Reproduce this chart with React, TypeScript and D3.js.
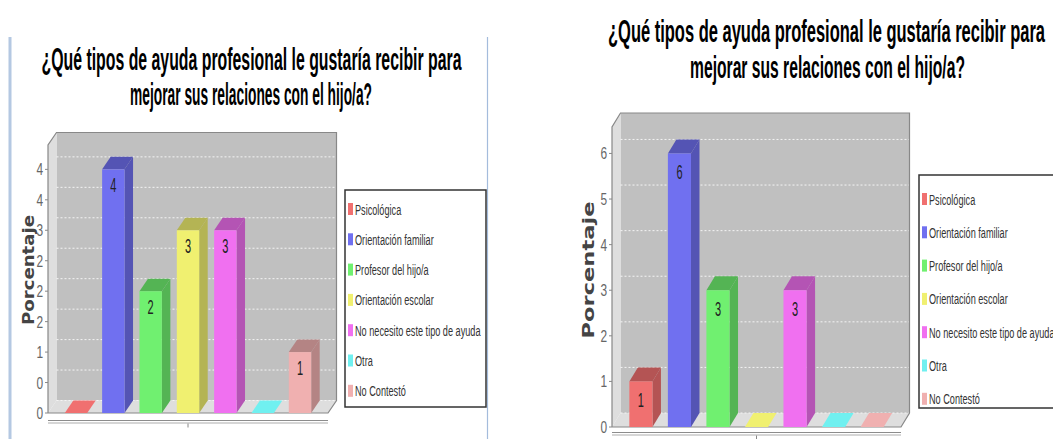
import React from 'react'
import * as d3 from 'd3'

const CATEGORIES = [
  'Psicológica',
  'Orientación familiar',
  'Profesor del hijo/a',
  'Orientación escolar',
  'No necesito este tipo de ayuda',
  'Otra',
  'No Contestó',
]
const LEFT_VALUES = [0, 4, 2, 3, 3, 0, 1]
const RIGHT_VALUES = [1, 6, 3, 0, 3, 0, 0]
const COLORS = ['#f07070', '#7070f0', '#70f070', '#f0f070', '#f070f0', '#70f0f0', '#f0b0b0']
const LEFT_TICKS = [0, 0.5, 1, 1.5, 2, 2.5, 3, 3.5, 4]
const LEFT_TICK_LABELS = ['0', '0', '1', '2', '2', '2', '3', '4', '4']
const RIGHT_TICKS = [0, 1, 2, 3, 4, 5, 6]
const RIGHT_TICK_LABELS = ['0', '1', '2', '3', '4', '5', '6']
const TITLE_LINES = ['¿Qué tipos de ayuda profesional le gustaría recibir para', 'mejorar sus relaciones con el hijo/a?']
const Y_LABEL = 'Porcentaje'

const SANS = '"Liberation Sans", Arial, sans-serif'

function Chart3D(props: any) {
  const { values, ticks, tickLabels, yMax, g, legend, title, axisLabel } = props
  const { x0, x1, zeroY, topY, dx, dy } = g

  const y = d3.scaleLinear().domain([0, yMax]).range([zeroY, topY])
  const x = d3.scaleBand<string>().domain(CATEGORIES).range([x0, x1]).paddingInner(0.4).paddingOuter(0.45)
  const bw = x.bandwidth()
  const poly = (pts: number[][]) => pts.map(p => p.join(',')).join(' ')
  const axisMid = (x0 + x1) / 2

  return (
    <g>
      {/* title */}
      {TITLE_LINES.map((t, i) => (
        <text key={t} x={title.cx[i]} y={title.y[i]} textAnchor="middle" fontFamily={SANS} fontWeight="bold"
          fontSize={31} fill="#000" textLength={title.len[i]} lengthAdjust="spacingAndGlyphs">{t}</text>
      ))}

      {/* walls */}
      <rect x={x0 + dx} y={topY - dy} width={x1 - x0} height={zeroY - topY} fill="#c0c0c0" />
      <polygon points={poly([[x0, topY], [x0 + dx, topY - dy], [x0 + dx, zeroY - dy], [x0, zeroY]])} fill="#dedede" />
      <polygon points={poly([[x0, zeroY], [x0 + dx, zeroY - dy], [x1 + dx, zeroY - dy], [x1, zeroY]])} fill="#dedede" />
      {ticks.filter((t: number) => t > 0).map((t: number) => (
        <line key={t} x1={x0 + dx} x2={x1 + dx} y1={y(t) - dy} y2={y(t) - dy}
          stroke="#f4f4f4" strokeDasharray="2,2" strokeWidth={1} />
      ))}
      <line x1={x0 + dx} x2={x1 + dx} y1={zeroY - dy} y2={zeroY - dy} stroke="#f4f4f4" strokeDasharray="2,2" />
      <polyline points={poly([[x0, zeroY], [x0, topY], [x0 + dx, topY - dy], [x1 + dx, topY - dy],
        [x1 + dx, zeroY - dy], [x1, zeroY], [x0, zeroY]])} fill="none" stroke="#888" strokeWidth={1.2} />

      {/* bars */}
      {values.map((v: number, i: number) => {
        const c = CATEGORIES[i]
        const bx = x(c) as number
        const top = y(v)
        const col = COLORS[i]
        const dark = d3.rgb(col).darker(0.8).toString()
        if (v === 0) {
          return (
            <polygon key={c} points={poly([[bx, zeroY], [bx + dx, zeroY - dy], [bx + bw + dx, zeroY - dy], [bx + bw, zeroY]])}
              fill={col} />
          )
        }
        return (
          <g key={c}>
            <polygon points={poly([[bx + bw, top], [bx + bw + dx, top - dy], [bx + bw + dx, zeroY - dy], [bx + bw, zeroY]])} fill={dark} />
            <polygon points={poly([[bx, top], [bx + dx, top - dy], [bx + bw + dx, top - dy], [bx + bw, top]])} fill={dark} />
            <rect x={bx} y={top} width={bw} height={zeroY - top} fill={col} />
            <text transform={`translate(${bx + bw / 2},${top + g.labelOffset}) scale(0.55,1)`} textAnchor="middle"
              fontFamily={SANS} fontSize={20} fill="#222">{v}</text>
          </g>
        )
      })}

      {/* value axis */}
      {ticks.map((t: number, i: number) => (
        <g key={t}>
          <line x1={x0 - 3} x2={x0} y1={y(t)} y2={y(t)} stroke="#888" />
          <text transform={`translate(${x0 - 5},${y(t) + 6}) scale(0.7,1)`} textAnchor="end" fontFamily={SANS}
            fontSize={17} fill="#666">{tickLabels[i]}</text>
        </g>
      ))}
      <text transform={`translate(${axisLabel.x},${axisLabel.y}) rotate(-90)`} textAnchor="middle"
        fontFamily='"DejaVu Sans", Verdana, sans-serif' fontWeight="bold" fontSize={15} fill="#444"
        textLength={axisLabel.len} lengthAdjust="spacingAndGlyphs">{Y_LABEL}</text>

      {/* category axis */}
      <line x1={x0} x2={x1} y1={zeroY + g.axisGap} y2={zeroY + g.axisGap} stroke="#8c8c8c" strokeWidth={1.2} />
      <line x1={x0} x2={x1} y1={zeroY + g.axisGap + 2.5} y2={zeroY + g.axisGap + 2.5} stroke="#c8c8c8" strokeWidth={1.5} />
      <line x1={axisMid} x2={axisMid} y1={zeroY + g.axisGap + 3} y2={zeroY + g.axisGap + 7} stroke="#888" />

      {/* legend */}
      <rect x={legend.x} y={legend.y} width={legend.w} height={legend.h} fill="#fff" stroke="#333" strokeWidth={1.5} />
      {CATEGORIES.map((c, i) => {
        const cy = legend.first + legend.step * i
        return (
          <g key={c}>
            <rect x={legend.x + 3} y={cy - 6} width={5} height={12} fill={COLORS[i]} />
            <text transform={`translate(${legend.x + 10},${cy + 5.5}) scale(0.61,1)`} fontFamily={SANS}
              fontSize={15} fill="#333">{c}</text>
          </g>
        )
      })}
    </g>
  )
}

export default function App() {
  return (
    <svg width={1053} height={439} style={{ position: 'absolute', left: 0, top: 0, background: '#fff' }}>
      <rect x={0} y={0} width={1053} height={439} fill="#fff" />
      <line x1={10} x2={10} y1={37} y2={439} stroke="#b4c8e2" strokeWidth={3} />
      <line x1={487.5} x2={487.5} y1={37} y2={439} stroke="#a4bcdc" strokeWidth={1.2} />
      <Chart3D
        values={LEFT_VALUES}
        ticks={LEFT_TICKS}
        tickLabels={LEFT_TICK_LABELS}
        yMax={4.4}
        g={{ x0: 48, x1: 328, zeroY: 413, topY: 145, dx: 8.5, dy: 12.5, labelOffset: 23, axisGap: 7.5 }}
        legend={{ x: 345, y: 190, w: 141, h: 217, first: 209, step: 30.3 }}
        title={{ cx: [251.5, 251], y: [70, 105], len: [420, 242] }}
        axisLabel={{ x: 33.5, y: 270, len: 110 }}
      />
      <Chart3D
        values={RIGHT_VALUES}
        ticks={RIGHT_TICKS}
        tickLabels={RIGHT_TICK_LABELS}
        yMax={6.58}
        g={{ x0: 612, x1: 901, zeroY: 427, topY: 127, dx: 8.5, dy: 14, labelOffset: 26, axisGap: 5.5 }}
        legend={{ x: 919, y: 175, w: 150, h: 233, first: 199, step: 33.3 }}
        title={{ cx: [826.5, 827.5], y: [42, 78], len: [437, 275] }}
        axisLabel={{ x: 594, y: 270, len: 137 }}
      />
    </svg>
  )
}
